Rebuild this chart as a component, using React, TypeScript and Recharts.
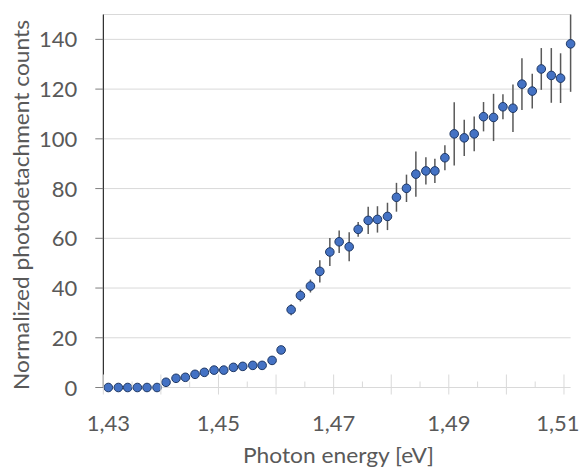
import React from 'react';
import { ScatterChart, Scatter, XAxis, YAxis, CartesianGrid, ErrorBar } from 'recharts';

const energy = [1.43087, 1.43261, 1.43424, 1.43591, 1.43759, 1.43933, 1.44089, 1.44263, 1.44425, 1.44593, 1.44755, 1.44924, 1.45092, 1.45259, 1.45422, 1.45596, 1.45758, 1.45931, 1.46088, 1.46262, 1.46423, 1.46597, 1.4676, 1.46934, 1.47096, 1.4727, 1.47426, 1.476, 1.47761, 1.47935, 1.48091, 1.48265, 1.48428, 1.48602, 1.48758, 1.48932, 1.49094, 1.49268, 1.49441, 1.49603, 1.49777, 1.4994, 1.50114, 1.5027, 1.50449, 1.50606, 1.5078, 1.50941, 1.51115];

const counts = [0, 0, 0, 0, 0, 0, 2.1, 3.7, 4.1, 5.3, 6.1, 7.0, 7.0, 8.1, 8.5, 8.9, 8.9, 10.9, 15.1, 31.3, 37.0, 40.8, 46.7, 54.5, 58.6, 56.6, 63.6, 67.2, 67.6, 68.8, 76.5, 80.1, 85.8, 87.1, 87.1, 92.4, 102.0, 100.4, 102.0, 108.9, 108.6, 112.9, 112.3, 122.0, 119.2, 128.1, 125.5, 124.4, 138.2];

// symmetric error, or [lower, upper] for the visible part of the last bar
const errors: (number | number[])[] = [0, 0, 0, 0, 0, 0, 0, 0, 0, 0, 0, 0, 0, 0, 0, 0, 0, 0, 0.8, 2.2, 2.4, 2.6, 4.5, 5.6, 4.5, 5.8, 3.0, 5.5, 5.3, 5.5, 5.8, 5.5, 9.1, 5.5, 4.9, 5.0, 12.7, 7.3, 7.0, 5.9, 9.5, 5.0, 9.6, 10.4, 7.0, 8.4, 11.0, 10.0, [19.3, 11.8]];

const xTicks = [1.43, 1.435, 1.44, 1.445, 1.45, 1.455, 1.46, 1.465, 1.47, 1.475, 1.48, 1.485, 1.49, 1.495, 1.5, 1.505, 1.51];
const yTicks = [0, 20, 40, 60, 80, 100, 120, 140];

const data = energy.map((e, i) => ({ x: e, y: counts[i], err: errors[i] }));

const FONT = 'Lato, "Open Sans", sans-serif';
const GREY = '#595959';

const XTick = (props: any) => {
  const { x, y, payload } = props;
  const v = payload.value as number;
  const idx = Math.round((v - 1.43) / 0.005);
  const major = idx % 2 === 0;
  const labelled = idx % 4 === 0;
  let dx = 0;
  if (idx === 0) dx = 5;
  if (idx === 16) dx = -6;
  return (
    <g>
      <line x1={x} x2={x} y1={major ? y - 13 : y - 6} y2={major ? y + 7 : y} stroke="#d9d9d9" strokeWidth={1} />
      {labelled && (
        <text x={x + dx} y={y + 43} textAnchor="middle" fill={GREY} fontFamily={FONT} fontSize={22}>
          {v.toFixed(2).replace('.', ',')}
        </text>
      )}
    </g>
  );
};

const YTick = (props: any) => {
  const { x, y, payload } = props;
  return (
    <g>
      <line x1={x - 8} x2={x} y1={y} y2={y} stroke="#7f7f7f" strokeWidth={1} />
      <text x={x - 26} y={y + 8} textAnchor="end" fill={GREY} fontFamily={FONT} fontSize={22}>
        {payload.value}
      </text>
    </g>
  );
};

const Dot = (props: any) => {
  const { cx, cy } = props;
  return <circle cx={cx} cy={cy} r={4.3} fill="#4472C4" stroke="#1F3864" strokeWidth={1} />;
};

const XTitle = () => (
  <text x={338.5} y={463} textAnchor="middle" fill={GREY} fontFamily={FONT} fontSize={21} textLength={191} lengthAdjust="spacingAndGlyphs">
    Photon energy [eV]
  </text>
);

const YTitle = () => (
  <text x={0} y={0} transform="translate(29,205) rotate(-90)" textAnchor="middle" fill={GREY} fontFamily={FONT} fontSize={22} textLength={370} lengthAdjust="spacingAndGlyphs">
    Normalized photodetachment counts
  </text>
);

export default function App() {
  return (
    <div style={{ position: 'absolute', left: 0, top: 0, background: '#fff' }}>
      <ScatterChart width={580} height={468} margin={{ top: 14.5, right: 9.4, bottom: 0, left: 0 }}>
        <CartesianGrid vertical={false} stroke="#d9d9d9" strokeWidth={1} />
        <XAxis
          type="number"
          dataKey="x"
          domain={[1.43, 1.51115]}
          ticks={xTicks}
          interval={0}
          height={80.5}
          axisLine={false}
          tickLine={false}
          tickSize={0}
          tickMargin={0}
          tick={<XTick />}
          label={<XTitle />}
        />
        <YAxis
          type="number"
          dataKey="y"
          domain={[0, 150]}
          ticks={yTicks}
          interval={0}
          width={103.3}
          axisLine={{ stroke: '#000000', strokeWidth: 1 }}
          tickLine={false}
          tickSize={0}
          tickMargin={0}
          tick={<YTick />}
          label={<YTitle />}
        />
        <Scatter data={data} isAnimationActive={false} shape={<Dot />}>
          <ErrorBar dataKey="err" direction="y" width={0} stroke="#595959" strokeWidth={1.5} />
        </Scatter>
      </ScatterChart>
    </div>
  );
}
